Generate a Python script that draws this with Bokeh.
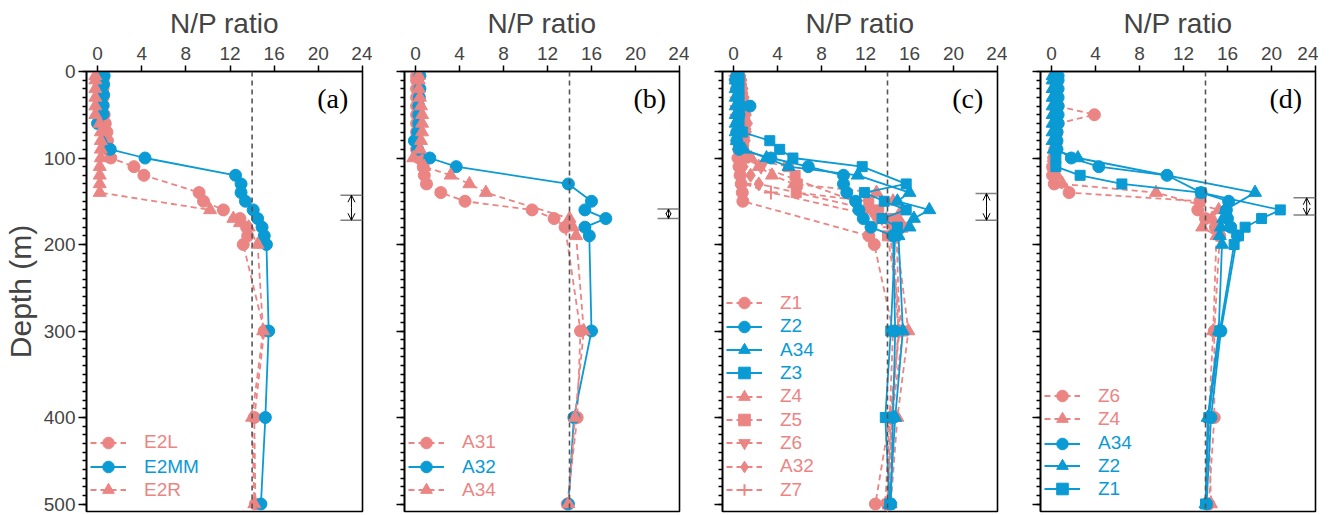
from bokeh.plotting import figure
from bokeh.models import (Range1d, FixedTicker, Span, Label, Legend, LegendItem,
                          Arrow, OpenHead)
from bokeh.layouts import row
from bokeh.embed import file_html
from bokeh.resources import INLINE

RED = "#EB8584"
BLUE = "#0A9AD4"

# ---------------- data ----------------
X_TICKS = [0, 4, 8, 12, 16, 20, 24]
Y_TICKS = [0, 100, 200, 300, 400, 500]
REDFIELD = 14

# panel (a)
E2L_depth = [5, 10, 20, 30, 40, 50, 60, 70, 80, 90, 100, 110, 120, 140, 150, 160, 170, 180, 190, 200, 300, 400, 500]
E2L_np = [0.4, 0.5, 0.5, 0.5, 0.5, 0.6, 0.7, 0.85, 0.9, 0.9, 1.2, 3.3, 4.2, 9.2, 9.6, 11.4, 12.9, 13.5, 13.6, 13.2, 15.1, 14.2, 14.3]
E2MM_depth = [5, 15, 27, 39, 49, 60, 90, 100, 120, 130, 140, 150, 160, 170, 180, 190, 200, 300, 400, 500]
E2MM_np = [0.6, 0.55, 0.55, 0.5, 0.5, 0.0, 1.15, 4.3, 12.5, 13.0, 13.0, 13.4, 14.1, 14.5, 14.9, 15.1, 15.3, 15.5, 15.2, 14.8]
E2R_depth = [5, 10, 20, 30, 40, 50, 60, 70, 80, 90, 100, 110, 120, 130, 140, 160, 170, 175, 180, 200, 300, 400, 500]
E2R_np = [-0.2, -0.2, -0.2, -0.2, -0.2, -0.2, 0.2, 0.3, 0.3, 0.3, 0.3, 0.2, 0.2, 0.2, 0.2, 10.2, 12.3, 12.9, 13.7, 14.5, 15.0, 14.0, 14.2]

# panel (b)
A31_depth = [5, 10, 20, 30, 40, 50, 60, 70, 80, 90, 100, 110, 120, 130, 140, 150, 160, 170, 180, 300, 400, 500]
A31_np = [0.1, 0.1, 0.1, 0.1, 0.1, 0.1, 0.1, 0.1, 0.1, 0.1, 0.3, 0.7, 0.8, 1.0, 2.3, 4.5, 10.6, 12.6, 13.6, 15.0, 14.7, 13.8]
A32_depth = [5, 20, 30, 40, 50, 60, 70, 80, 90, 100, 110, 130, 150, 160, 170, 180, 190, 300, 400, 500]
A32_np = [0.4, 0.4, 0.35, 0.3, 0.3, 0.3, 0.2, -0.1, 0.2, 1.3, 3.7, 13.9, 16.0, 15.4, 17.3, 15.4, 15.8, 16.0, 14.4, 13.9]
A34b_depth = [5, 10, 20, 30, 40, 50, 60, 70, 80, 90, 100, 110, 120, 130, 140, 170, 180, 190, 300, 400, 500]
A34b_np = [0.3, 0.3, 0.3, 0.4, 0.5, 0.6, 0.6, 0.6, 0.5, 0.4, -0.2, 0.8, 3.2, 4.9, 6.4, 14.0, 14.3, 14.6, 15.3, 14.5, 13.9]

# panel (c)
Z1c_depth = [5, 10, 20, 30, 40, 50, 60, 70, 80, 90, 100, 110, 120, 130, 140, 150, 190, 200, 300, 400, 500]
Z1c_np = [0.3, 0.4, 0.5, 0.6, 0.7, 0.8, 0.8, 0.7, 0.6, 0.5, 0.4, 0.5, 0.6, 0.7, 0.8, 0.85, 12.3, 12.8, 14.5, 14.2, 12.9]
Z2c_depth = [5, 10, 20, 30, 40, 50, 60, 70, 80, 90, 100, 110, 120, 130, 140, 150, 160, 170, 180, 190, 300, 400, 500]
Z2c_np = [0.3, 0.2, 0.3, 0.4, 1.5, 0.5, 0.4, 0.3, 0.3, 0.5, 3.4, 6.8, 10.0, 10.0, 10.3, 11.1, 11.4, 11.8, 12.5, 14.5, 14.7, 14.5, 14.3]
A34c_depth = [5, 10, 20, 30, 40, 50, 60, 70, 80, 90, 100, 110, 120, 140, 150, 160, 170, 180, 190, 300, 400, 500]
A34c_np = [0.2, 0.2, 0.2, 0.2, 0.2, 0.2, 0.2, 0.2, 0.3, 0.95, 3.0, 5.0, 11.3, 16.0, 14.9, 17.8, 16.4, 16.0, 15.0, 15.4, 14.7, 14.2]
Z3_depth = [5, 10, 20, 30, 40, 50, 60, 70, 80, 90, 100, 110, 130, 140, 150, 160, 170, 180, 190, 300, 400, 500]
Z3_np = [0.5, 0.5, 0.5, 0.5, 0.5, 0.5, 0.5, 0.8, 3.3, 4.2, 5.4, 11.7, 15.7, 11.9, 13.7, 15.7, 13.5, 14.9, 14.7, 14.3, 13.8, 14.2]
Z4c_depth = [5, 10, 20, 30, 40, 50, 60, 70, 80, 90, 100, 110, 120, 130, 140, 150, 160, 170, 180, 190, 300, 400, 500]
Z4c_np = [0.6, 0.6, 0.7, 0.8, 0.8, 0.9, 0.9, 0.9, 0.8, 0.9, 1.6, 2.3, 3.5, 5.5, 13.0, 14.5, 15.3, 15.0, 14.7, 14.8, 15.9, 14.9, 14.3]
Z5_depth = [5, 10, 20, 30, 40, 50, 60, 70, 80, 90, 100, 110, 120, 130, 140, 150, 160, 170, 180, 190, 300, 400, 500]
Z5_np = [0.5, 0.6, 0.7, 0.8, 0.9, 1.0, 1.0, 0.9, 0.8, 0.9, 1.0, 5.0, 5.6, 5.8, 5.7, 12.3, 13.2, 14.5, 15.4, 14.0, 15.4, 14.4, 14.0]
Z6c_depth = [5, 10, 20, 30, 40, 50, 60, 70, 80, 90, 100, 110, 150, 160, 170, 180, 300, 400, 500]
Z6c_np = [0.4, 0.5, 0.6, 0.7, 0.8, 0.8, 0.9, 1.0, 0.9, 0.8, 1.0, 2.5, 11.0, 12.0, 13.0, 14.5, 15.0, 14.3, 14.0]
A32c_depth = [5, 10, 20, 30, 40, 50, 60, 70, 80, 90, 100, 110, 120, 130, 160, 170, 180, 300, 400, 500]
A32c_np = [0.7, 0.8, 0.9, 1.0, 1.1, 1.2, 1.3, 1.2, 1.1, 1.0, 0.9, 0.9, 1.55, 2.3, 12.5, 13.5, 14.8, 15.1, 14.2, 13.8]
Z7_depth = [5, 10, 20, 30, 40, 50, 60, 70, 80, 90, 100, 110, 120, 130, 140, 170, 180, 300, 400, 500]
Z7_np = [0.2, 0.2, 0.3, 0.3, 0.3, 0.3, 0.4, 0.4, 0.4, 0.5, 0.5, 0.6, 0.8, 1.0, 3.4, 13.9, 14.2, 15.0, 14.4, 14.1]

# panel (d)
Z6d_depth = [5, 10, 20, 30, 40, 50, 60, 70, 80, 90, 100, 110, 120, 130, 140, 150, 160, 170, 180, 190, 300, 400, 500]
Z6d_np = [0.3, 0.3, 0.4, 0.4, 0.6, 3.9, 0.6, 0.5, 0.4, 0.3, 0.2, 0.1, 0.1, 0.25, 1.6, 13.5, 13.3, 14.0, 14.9, 15.3, 14.8, 14.8, 14.3]
Z4d_depth = [5, 10, 20, 30, 40, 50, 60, 70, 80, 90, 100, 110, 120, 130, 140, 160, 170, 180, 190, 300, 400, 500]
Z4d_np = [0.3, 0.3, 0.3, 0.3, 0.3, 0.3, 0.3, 0.4, 0.4, 0.3, 0.2, 0.2, 0.5, 1.0, 9.5, 15.2, 14.6, 13.7, 15.0, 14.7, 14.3, 14.5]
A34d_depth = [5, 10, 20, 30, 40, 50, 60, 70, 80, 90, 100, 110, 120, 140, 150, 160, 170, 180, 190, 300, 400, 500]
A34d_np = [0.6, 0.6, 0.6, 0.6, 0.6, 0.6, 0.6, 0.5, 0.5, 0.5, 1.8, 4.3, 10.5, 13.6, 16.1, 15.9, 16.0, 16.3, 16.9, 15.4, 14.5, 14.1]
Z2d_depth = [5, 10, 20, 30, 40, 50, 60, 70, 80, 90, 100, 140, 160, 170, 180, 190, 200, 300, 400, 500]
Z2d_np = [0.1, 0.1, 0.1, 0.1, 0.1, 0.1, 0.1, 0.1, 0.1, 0.2, 2.4, 18.5, 15.8, 15.6, 15.4, 15.3, 15.5, 15.2, 14.2, 14.0]
Z1d_depth = [5, 10, 20, 30, 40, 50, 60, 70, 80, 90, 100, 110, 120, 130, 140, 160, 170, 180, 190, 200, 300, 400, 500]
Z1d_np = [0.4, 0.4, 0.4, 0.4, 0.4, 0.4, 0.4, 0.4, 0.4, 0.4, 0.4, 0.4, 2.6, 6.4, 13.6, 20.8, 19.1, 17.6, 17.0, 16.6, 15.3, 14.3, 14.0]

# double-arrow ranges (depth, m) per panel
ARROW_X = [23.0, 23.0, 23.0, 23.2]
ARROW_TOP = [143, 159, 141, 146]
ARROW_BOT = [172, 170, 172, 166]
PANEL_TAGS = ["(a)", "(b)", "(c)", "(d)"]

# ---------------- styling / layout ----------------
SIZES = {"circle": 12, "triangle": 13, "square": 10, "inverted_triangle": 13,
         "diamond": 14, "cross": 14}
FONT = "Liberation Sans"
H = 515
TOP = 71
BOTTOM = 4
FRAME_H = H - TOP - BOTTOM     # 440 px
Y_MAX = FRAME_H / 0.865        # depth at frame bottom


def panel(idx, series, legend_y, width, left, right, first=False):
    p = figure(width=width, height=H, x_range=Range1d(-1, 24), y_range=Range1d(Y_MAX, 0),
               x_axis_location="above", output_backend="svg", toolbar_location=None,
               min_border_left=left, min_border_right=right, min_border_top=TOP,
               min_border_bottom=BOTTOM)
    p.grid.visible = False
    p.outline_line_color = "black"
    p.outline_line_width = 1.6
    p.background_fill_color = "white"

    xa = p.xaxis[0]
    xa.ticker = FixedTicker(ticks=X_TICKS, minor_ticks=[])
    xa.axis_label = "N/P ratio"
    xa.axis_label_text_font = FONT
    xa.axis_label_text_font_style = "normal"
    xa.axis_label_text_font_size = "28px"
    xa.axis_label_standoff = 5
    xa.major_label_text_font = FONT
    xa.major_label_text_font_size = "19px"
    xa.major_label_standoff = 6
    xa.major_tick_out = 6
    xa.major_tick_in = 0
    xa.major_tick_line_width = 1.5
    xa.axis_line_width = 1.6

    ya = p.yaxis[0]
    ya.ticker = FixedTicker(ticks=Y_TICKS, minor_ticks=list(range(0, 510, 10)))
    ya.major_tick_out = 8
    ya.major_tick_in = 0
    ya.minor_tick_out = 4
    ya.minor_tick_in = 0
    ya.major_tick_line_width = 1.5
    ya.minor_tick_line_width = 1.5
    ya.axis_line_width = 1.6
    ya.major_label_text_font = FONT
    ya.major_label_text_font_size = "19px"
    ya.major_label_standoff = 3
    if first:
        ya.axis_label = "Depth (m)"
        ya.axis_label_text_font = FONT
        ya.axis_label_text_font_style = "normal"
        ya.axis_label_text_font_size = "30px"
        ya.axis_label_standoff = 4
    else:
        ya.major_label_overrides = {t: "" for t in Y_TICKS}

    p.add_layout(Span(location=REDFIELD, dimension="height", line_color="#555555",
                      line_dash="5 4", line_width=1.6))

    rends = []
    for name, color, dashed, marker, d, v in series:
        lr = p.line(v, d, line_color=color, line_width=1.8,
                    line_dash="6 4" if dashed else "solid")
        if marker == "cross":
            sr = p.scatter(v, d, marker=marker, size=SIZES[marker], line_color=color,
                           line_width=2)
        else:
            sr = p.scatter(v, d, marker=marker, size=SIZES[marker], fill_color=color,
                           line_color=color)
        rends.append((name, color, lr, sr))

    # double arrow + bars
    ax, at, ab = ARROW_X[idx], ARROW_TOP[idx], ARROW_BOT[idx]
    p.segment(x0=[22, 22], y0=[at, ab], x1=[24, 24], y1=[at, ab],
              line_color="#808080", line_width=1.5)
    hs = 5 if (ab - at) < 15 else 7
    for tip in (at, ab):
        p.add_layout(Arrow(x_start=ax, y_start=(at + ab) / 2, x_end=ax, y_end=tip,
                           line_width=1, line_color="black",
                           end=OpenHead(size=hs, line_width=1, line_color="black")))

    p.add_layout(Label(x=21.3, y=31, text=PANEL_TAGS[idx], text_font="Liberation Serif",
                       text_font_size="28px", text_align="center", text_baseline="middle",
                       text_color="black"))

    # one legend per entry so each label gets its series colour
    for (name, color, lr, sr), cy in zip(rends, legend_y):
        dist = (TOP + FRAME_H) - cy          # px above the frame bottom
        lg = Legend(items=[LegendItem(label=name, renderers=[lr, sr])],
                    location=(4, dist - 14), padding=0, margin=0, spacing=0,
                    glyph_width=36, glyph_height=29, label_height=28, label_standoff=18,
                    label_text_font=FONT, label_text_font_size="19px",
                    label_text_color=color, border_line_color=None,
                    background_fill_alpha=0)
        p.add_layout(lg)
    return p


pa = panel(0, [("E2L", RED, True, "circle", E2L_depth, E2L_np),
               ("E2MM", BLUE, False, "circle", E2MM_depth, E2MM_np),
               ("E2R", RED, True, "triangle", E2R_depth, E2R_np)],
           [442.7, 467, 490], 372, 86, 10, first=True)
pb = panel(1, [("A31", RED, True, "circle", A31_depth, A31_np),
               ("A32", BLUE, False, "circle", A32_depth, A32_np),
               ("A34", RED, True, "triangle", A34b_depth, A34b_np)],
           [442.7, 467, 490], 317, 32, 10)
pc = panel(2, [("Z1", RED, True, "circle", Z1c_depth, Z1c_np),
               ("Z4", RED, True, "triangle", Z4c_depth, Z4c_np),
               ("Z5", RED, True, "square", Z5_depth, Z5_np),
               ("Z6", RED, True, "inverted_triangle", Z6c_depth, Z6c_np),
               ("A32", RED, True, "diamond", A32c_depth, A32c_np),
               ("Z7", RED, True, "cross", Z7_depth, Z7_np),
               ("Z2", BLUE, False, "circle", Z2c_depth, Z2c_np),
               ("A34", BLUE, False, "triangle", A34c_depth, A34c_np),
               ("Z3", BLUE, False, "square", Z3_depth, Z3_np)],
           [303.3, 396.7, 420, 443.3, 466.7, 490, 326.7, 350, 373.3], 318, 33, 10)
pd_ = panel(3, [("Z6", RED, True, "circle", Z6d_depth, Z6d_np),
                ("Z4", RED, True, "triangle", Z4d_depth, Z4d_np),
                ("A34", BLUE, False, "circle", A34d_depth, A34d_np),
                ("Z2", BLUE, False, "triangle", Z2d_depth, Z2d_np),
                ("Z1", BLUE, False, "square", Z1d_depth, Z1d_np)],
            [396, 419.3, 443.7, 466, 489.3], 311, 33, 3)

layout = row(pa, pb, pc, pd_, spacing=0)
open("out.html", "w").write(file_html(layout, INLINE))
